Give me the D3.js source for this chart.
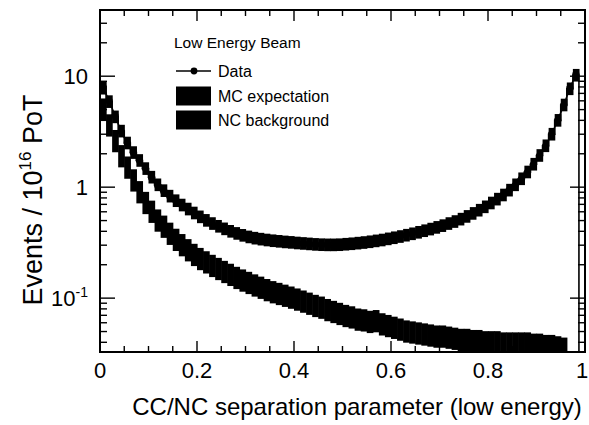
<!DOCTYPE html>
<html><head><meta charset="utf-8">
<script src="https://cdn.jsdelivr.net/npm/d3@7"></script>
<style>body{margin:0;background:#fff} svg{display:block} text{font-family:"Liberation Sans",Arial,Helvetica,sans-serif;fill:#000}</style>
</head><body><svg id="c" width="589" height="425"></svg>
<script>
// ---- data (80 bins of width 0.0125 on [0,1]) ----
const binWidth = 0.0125;
const dataValues = [8.0,6.0,4.4,3.15,2.5,2.05,1.75,1.48,1.22,1.04,
  0.92,0.83,0.76,0.69,0.635,0.585,0.54,0.5,0.47,0.445,
  0.42,0.4,0.382,0.367,0.356,0.346,0.34,0.335,0.33,0.326,
  0.322,0.318,0.315,0.311,0.308,0.305,0.303,0.302,0.302,0.303,
  0.305,0.309,0.313,0.318,0.323,0.328,0.335,0.342,0.35,0.36,
  0.37,0.38,0.392,0.405,0.42,0.435,0.45,0.47,0.49,0.515,
  0.545,0.58,0.62,0.665,0.72,0.78,0.85,0.94,1.04,1.18,
  1.36,1.6,1.92,2.35,3.0,4.0,5.5,7.8,10.4,null];
const mcValues = [7.8,5.9,4.3,3.2,2.5,2.05,1.74,1.47,1.23,1.05,
  0.93,0.83,0.755,0.69,0.635,0.585,0.54,0.502,0.47,0.444,
  0.421,0.4,0.383,0.368,0.356,0.347,0.34,0.334,0.329,0.325,
  0.321,0.318,0.314,0.311,0.308,0.305,0.303,0.302,0.302,0.303,
  0.306,0.309,0.313,0.317,0.322,0.328,0.334,0.342,0.35,0.359,
  0.369,0.38,0.392,0.405,0.419,0.434,0.45,0.47,0.49,0.515,
  0.545,0.58,0.62,0.665,0.72,0.78,0.85,0.94,1.05,1.19,
  1.37,1.61,1.93,2.36,3.0,4.0,5.5,7.7,10.2,0];
const ncValues = [5.0,3.6,2.6,1.9,1.5,1.15,0.9,0.72,0.6,0.5,
  0.44,0.38,0.335,0.3,0.27,0.245,0.225,0.21,0.195,0.183,
  0.172,0.162,0.152,0.144,0.137,0.13,0.124,0.118,0.113,0.109,
  0.105,0.101,0.097,0.093,0.089,0.085,0.082,0.078,0.075,0.072,
  0.069,0.067,0.064,0.063,0.061,0.062,0.058,0.056,0.054,0.052,
  0.05,0.049,0.048,0.047,0.046,0.045,0.045,0.044,0.043,0.042,
  0.042,0.041,0.041,0.04,0.04,0.04,0.039,0.039,0.039,0.039,
  0.039,0.038,0.038,0.037,0.037,0.036,0.035,0,0,0];
const mcRelErr = 0.14;   // relative band half-width
const ncRelErr = 0.26;
const xMajorTicks = [0,0.2,0.4,0.6,0.8,1];
const xTickLabels = ["0","0.2","0.4","0.6","0.8","1"];
const xMinorStep = 0.05;
const yMajorTicks = [0.1,1,10];
const yDomain = [0.0327,39.5];
const xTitle = "CC/NC separation parameter (low energy)";
const legendTitle = "Low Energy Beam";
const legendLabels = ["Data","MC expectation","NC background"];

// ---- layout ----
const svg = d3.select("#c");
const L=100,R=585,T=10,B=352;
const x = d3.scaleLinear().domain([0,1]).range([L,R]);
const y = d3.scaleLog().domain(yDomain).range([B,T]).clamp(true);
const yv = v => y(Math.max(v||0, yDomain[0]));

svg.append("defs").append("clipPath").attr("id","pc")
  .append("rect").attr("x",L).attr("y",T).attr("width",R-L).attr("height",B-T);
const g = svg.append("g").attr("clip-path","url(#pc)");

const bins = dataValues.map((d,i)=>({i, x0:i*binWidth, x1:(i+1)*binWidth, xc:(i+0.5)*binWidth,
  data:d, mc:mcValues[i], nc:ncValues[i]}));

// NC background band
g.selectAll("rect.nc").data(bins.filter(b=>b.nc>0)).join("rect").attr("class","nc")
  .attr("x",b=>x(b.x0)).attr("width",b=>x(b.x1)-x(b.x0)+0.6)
  .attr("y",b=>y(b.nc*(1+ncRelErr))).attr("height",b=>y(b.nc/(1+ncRelErr))-y(b.nc*(1+ncRelErr)))
  .attr("fill","#000");
// MC expectation band
g.selectAll("rect.mc").data(bins.filter(b=>b.mc>0)).join("rect").attr("class","mc")
  .attr("x",b=>x(b.x0)).attr("width",b=>x(b.x1)-x(b.x0)+0.6)
  .attr("y",b=>y(b.mc*(1+mcRelErr))).attr("height",b=>y(b.mc/(1+mcRelErr))-y(b.mc*(1+mcRelErr)))
  .attr("fill","#000");
// MC histogram outline (step)
const stepPts = [];
bins.forEach(b=>{stepPts.push([b.x0,b.mc]);stepPts.push([b.x1,b.mc]);});
g.append("path").datum(stepPts)
  .attr("d",d3.line().x(p=>x(p[0])).y(p=>yv(p[1])))
  .attr("fill","none").attr("stroke","#000").attr("stroke-width",1.6);
// Data line + markers
const dPts = bins.filter(b=>b.data!=null);
g.append("path").datum(dPts).attr("d",d3.line().x(b=>x(b.xc)).y(b=>y(b.data)))
  .attr("fill","none").attr("stroke","#000").attr("stroke-width",1.5);
g.selectAll("circle.d").data(dPts).join("circle").attr("class","d")
  .attr("cx",b=>x(b.xc)).attr("cy",b=>y(b.data)).attr("r",3.6).attr("fill","#000");

// ---- frame & ticks ----
const ax = svg.append("g").attr("stroke","#000").attr("fill","none");
ax.append("rect").attr("x",L).attr("y",T).attr("width",R-L).attr("height",B-T).attr("stroke-width",2);
const xMinor = d3.range(0,1+1e-9,xMinorStep);
xMinor.forEach(v=>{
  const major = xMajorTicks.some(m=>Math.abs(m-v)<1e-9);
  const len = major?11:6;
  ax.append("line").attr("x1",x(v)).attr("x2",x(v)).attr("y1",B).attr("y2",B-len).attr("stroke-width",1.4);
  ax.append("line").attr("x1",x(v)).attr("x2",x(v)).attr("y1",T).attr("y2",T+len).attr("stroke-width",1.4);
});
const yMinor = [];
[0.01,0.1,1,10].forEach(dec=>{for(let k=1;k<=9;k++){const v=dec*k; if(v>=yDomain[0]&&v<=yDomain[1]) yMinor.push(v);}});
yMinor.forEach(v=>{
  const major = yMajorTicks.some(m=>Math.abs(m-v)/m<1e-6);
  const len = major?15:7;
  ax.append("line").attr("x1",L).attr("x2",L+len).attr("y1",y(v)).attr("y2",y(v)).attr("stroke-width",1.4);
  ax.append("line").attr("x1",R).attr("x2",R-len).attr("y1",y(v)).attr("y2",y(v)).attr("stroke-width",1.4);
});

// tick labels
svg.selectAll("text.xt").data(xMajorTicks).join("text").attr("class","xt")
  .attr("x",d=>Math.min(x(d),582)).attr("y",378).attr("text-anchor","middle").attr("font-size",22)
  .text((d,i)=>xTickLabels[i]);
yMajorTicks.forEach(v=>{
  const t = svg.append("text").attr("x",88).attr("y",y(v)+8).attr("text-anchor","end").attr("font-size",22);
  if(v===0.1){ t.append("tspan").text("10"); t.append("tspan").attr("dy",-9).attr("font-size",14).text("-1"); }
  else t.text(String(v));
});

// axis titles
svg.append("text").attr("x",357).attr("y",415).attr("text-anchor","middle").attr("font-size",24).text(xTitle);
const yt = svg.append("text").attr("transform","translate(42,200) rotate(-90)").attr("text-anchor","middle").attr("font-size",27);
yt.append("tspan").text("Events / 10");
yt.append("tspan").attr("dy",-11).attr("font-size",17).text("16");
yt.append("tspan").attr("dy",11).text(" PoT");

// ---- legend ----
svg.append("text").attr("x",174).attr("y",48).attr("font-size",15.5).text(legendTitle);
const lg = svg.append("g");
const rowsY = [71,96,120];
lg.append("line").attr("x1",176).attr("x2",211).attr("y1",rowsY[0]).attr("y2",rowsY[0]).attr("stroke","#000").attr("stroke-width",1.5);
lg.append("circle").attr("cx",194).attr("cy",rowsY[0]).attr("r",3.4).attr("fill","#000");
[1,2].forEach(i=>lg.append("rect").attr("x",176).attr("y",rowsY[i]-9.5).attr("width",35).attr("height",19).attr("fill","#000"));
legendLabels.forEach((s,i)=>lg.append("text").attr("x",218).attr("y",rowsY[i]+5.5).attr("font-size",16).text(s));
</script></body></html>
